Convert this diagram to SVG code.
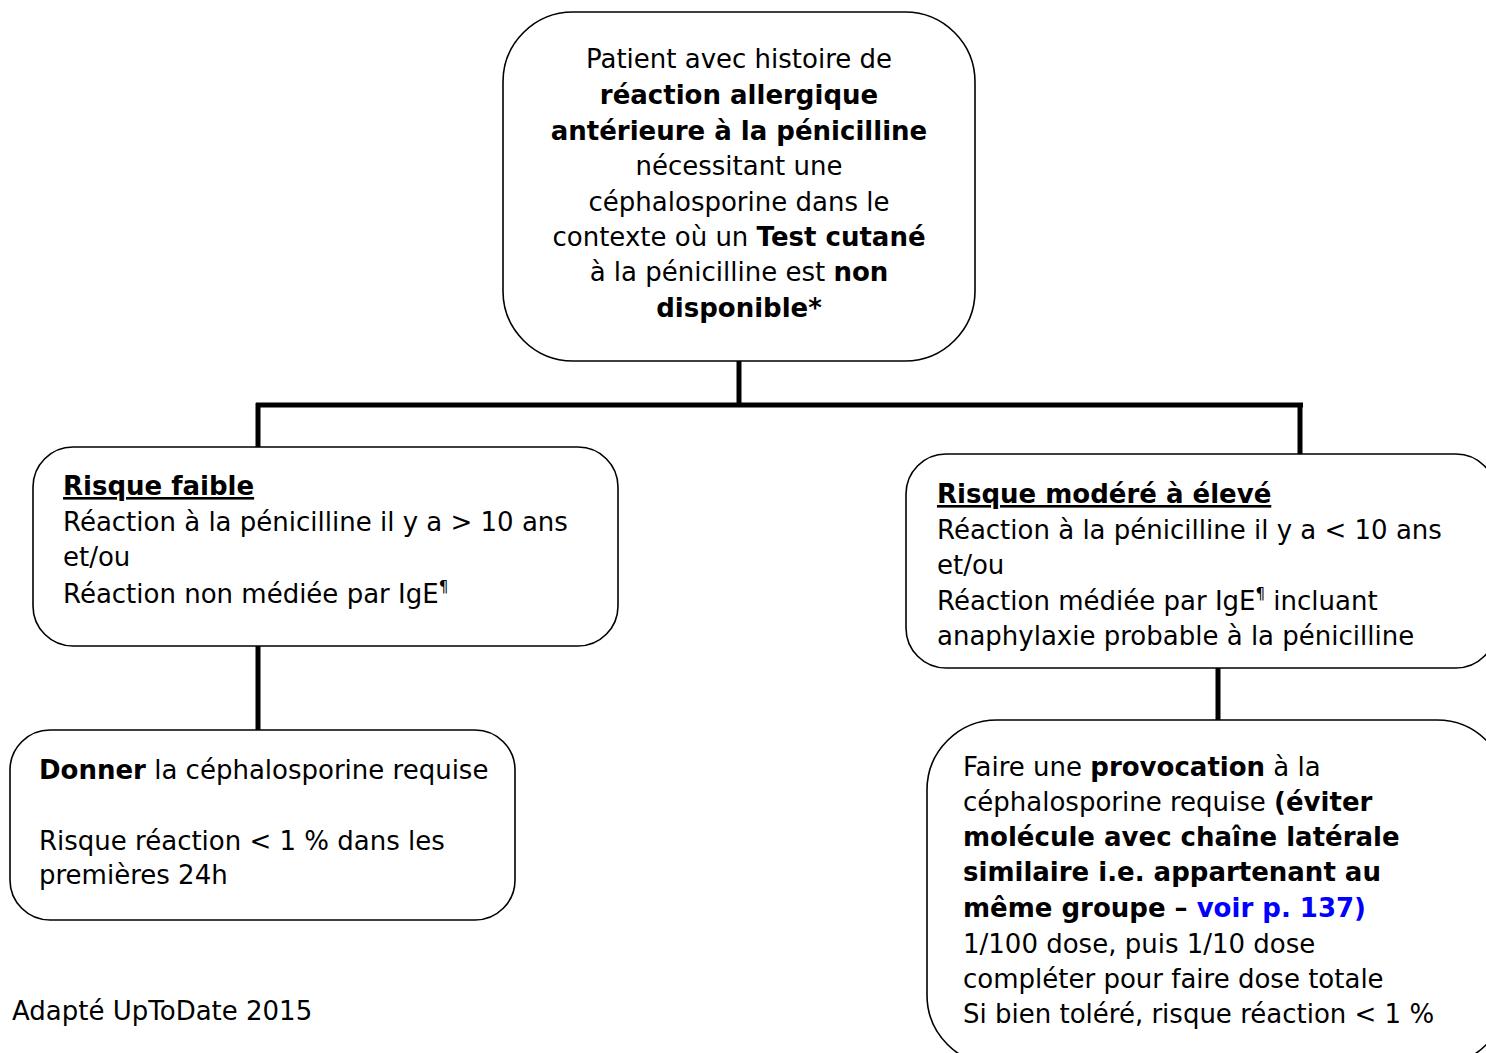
<svg xmlns="http://www.w3.org/2000/svg" width="1486" height="1053" viewBox="0 0 1486 1053">
<style>
.box{fill:#fff;stroke:#000;stroke-width:1.6}
.con{stroke:#000;stroke-width:5;fill:none;stroke-linecap:butt}
text{font-family:"DejaVu Sans",sans-serif;font-size:26px;fill:#000}
.c{text-anchor:middle}
.b{font-weight:bold}
.u{text-decoration:underline}
.blue{fill:#0000ff;font-weight:bold}
.sup{font-size:15px}
</style>
<rect width="1486" height="1053" fill="#fff"/>
<g id="connectors">
<line class="con" x1="739" y1="361" x2="739" y2="405"/>
<line class="con" x1="256" y1="405" x2="1303" y2="405"/>
<line class="con" x1="258" y1="403" x2="258" y2="447"/>
<line class="con" x1="1300" y1="403" x2="1300" y2="454"/>
<line class="con" x1="258" y1="646" x2="258" y2="730"/>
<line class="con" x1="1218" y1="668" x2="1218" y2="720"/>
</g>
<g id="top">
<rect class="box" x="503" y="12" width="472" height="349" rx="70" ry="70"/>
<text class="c" x="739" y="68">Patient avec histoire de</text>
<text class="c b" x="739" y="104">réaction allergique</text>
<text class="c b" x="739" y="140">antérieure à la pénicilline</text>
<text class="c" x="739" y="175">nécessitant une</text>
<text class="c" x="739" y="211">céphalosporine dans le</text>
<text class="c" x="739" y="246">contexte où un <tspan class="b">Test cutané</tspan></text>
<text class="c" x="739" y="281">à la pénicilline est <tspan class="b">non</tspan></text>
<text class="c b" x="739" y="317">disponible*</text>
</g>
<g id="low">
<rect class="box" x="33" y="447" width="585" height="199" rx="40" ry="40"/>
<text class="b u" x="63" y="495">Risque faible</text>
<text x="63" y="531">Réaction à la pénicilline il y a &gt; 10 ans</text>
<text x="63" y="566">et/ou</text>
<text x="63" y="603">Réaction non médiée par IgE<tspan class="sup" dy="-11">¶</tspan></text>
</g>
<g id="high">
<rect class="box" x="906" y="454" width="590" height="214" rx="40" ry="40"/>
<text class="b u" x="937" y="503">Risque modéré à élevé</text>
<text x="937" y="539">Réaction à la pénicilline il y a &lt; 10 ans</text>
<text x="937" y="574">et/ou</text>
<text x="937" y="610">Réaction médiée par IgE<tspan class="sup" dy="-11">¶</tspan><tspan dy="11"> incluant</tspan></text>
<text x="937" y="645">anaphylaxie probable à la pénicilline</text>
</g>
<g id="give">
<rect class="box" x="10" y="730" width="505" height="190" rx="40" ry="40"/>
<text x="39" y="779"><tspan class="b">Donner</tspan> la céphalosporine requise</text>
<text x="39" y="850">Risque réaction &lt; 1 % dans les</text>
<text x="39" y="884">premières 24h</text>
</g>
<g id="challenge">
<rect class="box" x="927" y="720" width="580" height="345" rx="70" ry="70"/>
<text x="963" y="776">Faire une <tspan class="b">provocation</tspan> à la</text>
<text x="963" y="811">céphalosporine requise <tspan class="b">(éviter</tspan></text>
<text class="b" x="963" y="846">molécule avec chaîne latérale</text>
<text class="b" x="963" y="881">similaire i.e. appartenant au</text>
<text class="b" x="963" y="917">même groupe – <tspan class="blue">voir p. 137)</tspan></text>
<text x="963" y="953">1/100 dose, puis 1/10 dose</text>
<text x="963" y="988">compléter pour faire dose totale</text>
<text x="963" y="1023">Si bien toléré, risque réaction &lt; 1 %</text>
</g>
<g id="footer">
<text x="12" y="1020">Adapté UpToDate 2015</text>
</g>
</svg>
